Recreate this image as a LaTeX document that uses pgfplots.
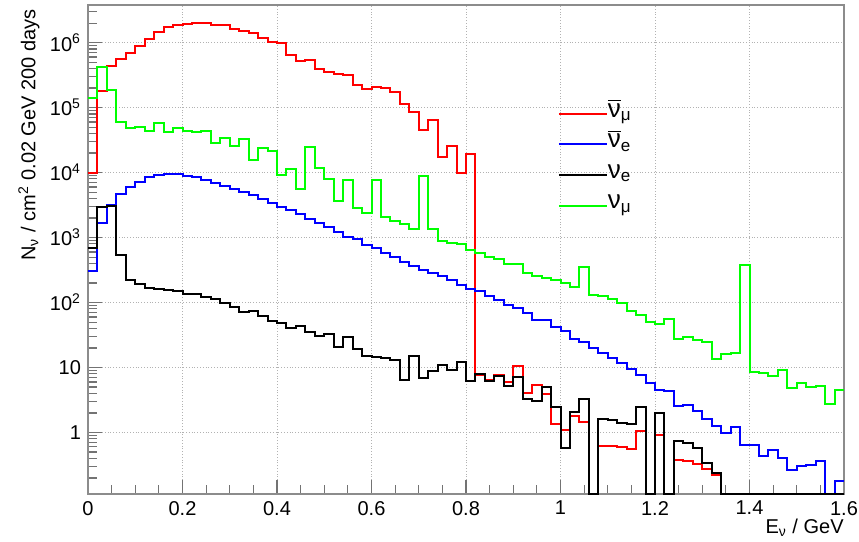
\documentclass[border=0pt]{standalone}
\usepackage{fontspec}
\setmainfont{Liberation Sans}
\usepackage{pgfplots}
\usepackage{pgfplotstable}
\pgfplotsset{compat=1.18}

% 0.02 GeV bins, left edges; last row closes the final bin
\pgfplotstableread{
E     anumu   anue   nue    numu
0.00  1e4     310    700    1.43e5
0.02  1.83e5  1660   3000   4.2e5
0.04  4.3e5   3150   3100   1.87e5
0.06  5.6e5   4700   540    6.1e4
0.08  6.9e5   5960   223    4.8e4
0.10  8.9e5   7200   194    5.1e4
0.12  1.14e6  8500   170    4.4e4
0.14  1.44e6  9100   162    5.75e4
0.16  1.73e6  9550   155    4.2e4
0.18  1.87e6  9500   148    4.8e4
0.20  1.94e6  9000   137    4.35e4
0.22  2.03e6  8500   133    4.2e4
0.24  1.99e6  7700   123    4.35e4
0.26  1.87e6  7000   112    2.9e4
0.28  1.88e6  6300   98     3.4e4
0.30  1.63e6  5680   84     2.57e4
0.32  1.53e6  5020   71     3.3e4
0.34  1.40e6  4540   75     1.57e4
0.36  1.17e6  3980   61     2.37e4
0.38  1.01e6  3450   52     2.16e4
0.40  1.0e6   3000   48     9.2e3
0.42  6.5e5   2630   41     1.13e4
0.44  5.2e5   2300   43     5.6e3
0.46  5.4e5   1940   35     2.44e4
0.48  3.9e5   1660   31     1.18e4
0.50  3.5e5   1440   33     8.0e3
0.52  3.3e5   1220   21     3.7e3
0.54  3.15e5  1036   29.8   7.7e3
0.56  2.2e5   945    19.5   2.9e3
0.58  1.96e5  772    14.8   2.43e3
0.60  2.1e5   687    14.5   7.7e3
0.62  2.0e5   575    14     2.1e3
0.64  1.76e5  500    13.2   1.83e3
0.66  1.15e5  428    6.5    1.62e3
0.68  8.6e4   367    15.3   1.35e3
0.70  4.6e4   318    6.9    8.9e3
0.72  6.5e4   290    8.7    1.35e3
0.74  1.73e4  252    11     900
0.76  2.57e4  219    9.2    820
0.78  9.8e3   187    12     800
0.80  1.96e4  160    6.1    646
0.82  7.7     149    8.0    575
0.84  6.5     128    6.1    500
0.86  7.7     111    7.5    466
0.88  5.9     92     5.2    394
0.90  10.6    81     7.2    394
0.92  4.1     69     3.3    283
0.94  5.3     54     3.0    260
0.96  3.9     53     5.0    237
0.98  1.37    42     2.46   224
1.00  1.08    37     0.58   198
1.02  1.77    27     2.1    174
1.04  1.43    24.5   3.3    355
1.06  0       19.9   0      130
1.08  0.63    17     1.6    124
1.10  0.61    14     1.56   115
1.12  0.59    11.7   1.39   98
1.14  0.56    9.4    1.36   75
1.16  1.04    7.8    2.46   65
1.18  0       5.75   0      51
1.20  0.91    4.45   2.0    47
1.22  0       4.4    0      55
1.24  0.38    2.55   0.73   27
1.26  0.36    2.68   0.70   30
1.28  0.33    2.15   0.58   26.5
1.30  0.27    1.62   0.34   25
1.32  0.22    1.24   0.24   13.5
1.34  0       0.98   0      16.4
1.36  0       1.2    0      17
1.38  0       0.65   0      380
1.40  0       0.65   0      8.6
1.42  0       0.43   0      8.2
1.44  0       0.54   0      7.4
1.46  0       0.40   0      9.2
1.48  0       0.26   0      4.8
1.50  0       0.30   0      5.7
1.52  0       0.32   0      5.0
1.54  0       0.36   0      5.2
1.56  0       0      0      2.76
1.58  0       0.18   0      4.5
1.60  0       0.18   0      4.5
}\histdata

\newcommand\subsz[1]{\hbox{\fontsize{8.5}{8.5}\selectfont #1}}

\begin{document}
\begin{tikzpicture}
\begin{axis}[
  scale only axis,
  width=378pt, height=244.5pt,
  ymode=log,
  xmin=0, xmax=1.6,
  ymin=0.113, ymax=3.8e6,
  xtick={0,0.2,0.4,0.6,0.8,1,1.2,1.4,1.6},
  xticklabels={0,0.2,0.4,0.6,0.8,1,1.2,1.4,1.6},
  minor x tick num=3,
  ytick={1,10,100,1000,10000,100000,1000000},
  yticklabels={1,10,10\textsuperscript{2},10\textsuperscript{3},10\textsuperscript{4},10\textsuperscript{5},10\textsuperscript{6}},
  minor ytick={0.2,0.3,0.4,0.5,0.6,0.7,0.8,0.9,
    2,3,4,5,6,7,8,9,20,30,40,50,60,70,80,90,
    200,300,400,500,600,700,800,900,
    2000,3000,4000,5000,6000,7000,8000,9000,
    20000,30000,40000,50000,60000,70000,80000,90000,
    200000,300000,400000,500000,600000,700000,800000,900000,
    2000000,3000000},
  tick pos=left,
  major tick length=7pt,
  minor tick length=4.5pt,
  tick style={black!55, line width=0.6pt},
  axis line style={black!45, line width=0.8pt},
  grid=major,
  major grid style={densely dotted, black!30, line width=0.5pt},
  tick label style={font=\fontsize{10}{11}\selectfont},
  xlabel={E\textsubscript{ν} / GeV},
  xlabel style={at={(axis description cs:1,0)}, anchor=north east, inner sep=0pt, yshift=-12.5pt, font=\fontsize{10}{11}\selectfont},
  ylabel={N\textsubscript{ν} / cm\textsuperscript{2} 0.02 GeV 200 days},
  ylabel style={at={(axis description cs:-0.0635,0.992)}, anchor=south east, inner sep=0pt, font=\fontsize{10}{11}\selectfont},
  legend style={at={(axis description cs:0.613,0.818)}, anchor=north west,
    draw=none, fill=none, font=\fontsize{13}{15}\selectfont,
    nodes={inner sep=0pt, text height=9.3pt, text depth=6pt},
    row sep=0pt, /tikz/every even column/.append style={column sep=4.5pt}},
  legend cell align=left,
  legend image code/.code={\draw[#1] (0pt,0pt) -- (24pt,0pt);},
]
\addplot[const plot, red, line width=1pt] table[x=E, y expr={max(\thisrow{anumu},0.113)}] {\histdata};
\addlegendentry{$\overline{\hbox{ν}}_{\subsz{μ}}$}
\addplot[const plot, blue, line width=1pt] table[x=E, y expr={max(\thisrow{anue},0.113)}] {\histdata};
\addlegendentry{$\overline{\hbox{ν}}_{\subsz{e}}$}
\addplot[const plot, black, line width=1pt] table[x=E, y expr={max(\thisrow{nue},0.113)}] {\histdata};
\addlegendentry{ν$_{\subsz{e}}$}
\addplot[const plot, green, line width=1pt] table[x=E, y expr={max(\thisrow{numu},0.113)}] {\histdata};
\addlegendentry{ν$_{\subsz{μ}}$}
\end{axis}
\pgfresetboundingbox
\path[use as bounding box] ([shift={(-44pt,-23.5pt)}]current axis.south west) rectangle ([shift={(7.5pt,2.5pt)}]current axis.north east);
\end{tikzpicture}
\end{document}
